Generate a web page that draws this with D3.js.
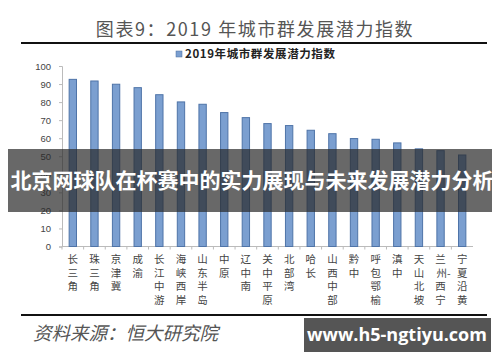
<!DOCTYPE html>
<html>
<head>
  <meta charset="UTF-8">
  <style>
    body {
      margin: 0;
      background: #fff;
      font-family: "Noto Sans CJK SC", "Noto Sans", sans-serif;
    }
    svg { display: block; }
  </style>
</head>
<body>
  <svg id="chart" width="500" height="362"></svg>
  <script src="https://d3js.org/d3.v7.min.js"></script>
  <script>
    // chart data
    const categories = ["长三角", "珠三角", "京津冀", "成渝", "长江中游", "海峡西岸", "山东半岛",
      "中原", "辽中南", "关中平原", "北部湾", "哈长", "山西中部", "黔中", "呼包鄂榆", "滇中",
      "天山北坡", "兰州-西宁", "宁夏沿黄"];
    const values = [92.6, 91.7, 89.9, 88.0, 84.1, 80.1, 78.8, 74.2, 71.4, 68.1, 67.0, 64.4,
      62.5, 59.8, 59.4, 57.4, 54.1, 53.1, 50.7];
    const yTicks = [0, 10, 20, 30, 40, 50, 60, 70, 80, 90, 100];

    const titleText = "图表9：2019 年城市群发展潜力指数";
    const legendText = "2019年城市群发展潜力指数";
    const sourceText = "资料来源：恒大研究院";
    const bannerText = "北京网球队在杯赛中的实力展现与未来发展潜力分析";
    const siteText = "www.h5-ngtiyu.com";

    const svg = d3.select("#chart");

    let x = d3.scaleBand()
      .domain(categories)
      .range([62, 473])
      .paddingInner(0.66)
      .paddingOuter(0.33);

    let y = d3.scaleLinear()
      .domain([0, 100])
      .range([246.5, 66]);

    // title + rules
    svg.append("text")
      .attr("x", 255).attr("y", 36)
      .attr("text-anchor", "middle")
      .attr("fill", "#555")
      .style("font-size", "18px")
      .style("letter-spacing", "1.6px")
      .text(titleText);

    svg.append("line")
      .attr("x1", 21).attr("x2", 487).attr("y1", 43).attr("y2", 43)
      .attr("stroke", "#111").attr("stroke-width", 2);

    svg.append("line")
      .attr("x1", 21).attr("x2", 487).attr("y1", 315).attr("y2", 315)
      .attr("stroke", "#111").attr("stroke-width", 2);

    // legend
    let legend = svg.append("g").attr("transform", "translate(176, 58)");
    legend.append("rect")
      .attr("x", 0).attr("y", -7).attr("width", 6).attr("height", 6)
      .attr("fill", "#7b9fd0").attr("stroke", "#4a6e9e").attr("stroke-width", 0.5);
    legend.append("text")
      .attr("x", 9).attr("y", 0)
      .attr("fill", "#222")
      .style("font-size", "11.5px")
      .style("font-weight", "bold")
      .style("letter-spacing", "0.6px")
      .text(legendText);

    // y axis
    let yAxis = svg.append("g")
      .attr("transform", "translate(62,0)")
      .call(d3.axisLeft(y).tickValues(yTicks).tickSize(3).tickPadding(8));
    yAxis.select(".domain").attr("stroke", "#bbb");
    yAxis.selectAll(".tick line").attr("stroke", "#bbb");
    yAxis.selectAll("text")
      .attr("fill", "#444")
      .style("font-size", "9.5px")
      .style("font-family", "Liberation Sans, Arial, sans-serif");

    // x axis line + ticks between categories
    svg.append("line")
      .attr("x1", 62).attr("x2", 473).attr("y1", y(0)).attr("y2", y(0))
      .attr("stroke", "#bbb");
    svg.append("g")
      .selectAll("line")
      .data(categories)
      .enter()
      .append("line")
      .attr("x1", d => x(d) - x.step() * 0.33)
      .attr("x2", d => x(d) - x.step() * 0.33)
      .attr("y1", y(0)).attr("y2", y(0) + 3)
      .attr("stroke", "#bbb");

    // bars
    svg.append("g")
      .selectAll("rect")
      .data(values)
      .enter()
      .append("rect")
      .attr("x", (d, i) => x(categories[i]))
      .attr("y", d => y(d))
      .attr("width", x.bandwidth())
      .attr("height", d => y(0) - y(d))
      .attr("fill", "#7b9fd0")
      .attr("stroke", "#4f74a8")
      .attr("stroke-width", 1);

    // vertical category labels, one text per category, one tspan per row
    let labels = svg.append("g")
      .selectAll("text")
      .data(categories)
      .enter()
      .append("text")
      .attr("text-anchor", "middle")
      .attr("fill", "#444")
      .style("font-size", "10.5px");

    labels.each(function(c) {
      let rows = c === "兰州-西宁" ? ["兰", "州-", "西", "宁"] : c.split("");
      let cx = x(c) + x.bandwidth() / 2;
      rows.forEach((ch, j) => {
        d3.select(this).append("tspan")
          .attr("x", cx + (ch.length > 1 ? 3 : 0))
          .attr("y", 263 + j * 13.5)
          .text(ch);
      });
    });

    // source
    svg.append("text")
      .attr("x", 33).attr("y", 340)
      .attr("fill", "#555")
      .style("font-size", "18.5px")
      .style("font-style", "italic")
      .text(sourceText);

    // watermark box
    svg.append("rect")
      .attr("x", 304).attr("y", 318).attr("width", 187).attr("height", 34)
      .attr("fill", "#555");
    svg.append("text")
      .attr("x", 397).attr("y", 341)
      .attr("text-anchor", "middle")
      .attr("fill", "#fff")
      .style("font-size", "18px")
      .style("font-weight", "bold")
      .style("font-family", "Open Sans, Noto Sans, sans-serif")
      .text(siteText);

    // overlay banner
    svg.append("rect")
      .attr("x", 8).attr("y", 149).attr("width", 484).attr("height", 63)
      .attr("fill", "rgba(40,40,40,0.7)");
    svg.append("text")
      .attr("x", 252).attr("y", 188)
      .attr("text-anchor", "middle")
      .attr("fill", "#fff")
      .style("font-size", "21px")
      .style("font-weight", "bold")
      .text(bannerText);
  </script>
</body>
</html>
